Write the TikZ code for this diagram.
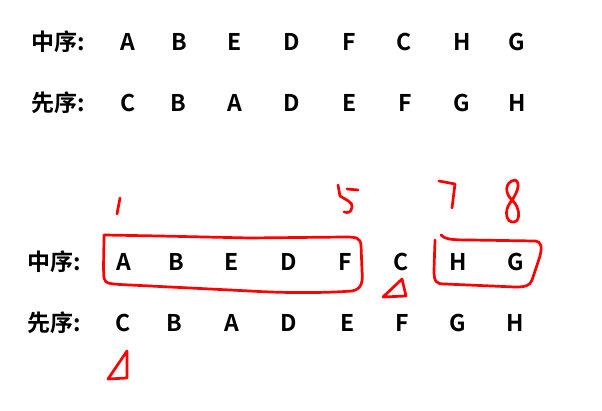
\documentclass[tikz,border=0pt]{standalone}
\usepackage{fontspec}
\setmainfont{Noto Sans CJK SC}[BoldFont={* Bold}]
\begin{document}
\begin{tikzpicture}[x=1pt,y=-1pt,
  lab/.style={font=\fontsize{23}{23}\selectfont\bfseries, inner sep=0pt},
  let/.style={font=\fontsize{23}{23}\selectfont\bfseries, inner sep=0pt},
  ink/.style={draw=red, line width=2.7pt, line cap=round, line join=round}]
\useasboundingbox (0,0) rectangle (602,411);
% rows top
\node[lab] (l1) at (58,42) {中序:};
\node[lab] (l2) at (58,103) {先序:};
\foreach \t [count=\i] in {A,B,E,D,F,C,H,G}{
  \pgfmathsetmacro\xx{{128,179,235,292,349,404,462,517}[\i-1]}
  \node[let] (a\i) at (\xx,42) {\t};}
\foreach \t [count=\i] in {C,B,A,D,E,F,G,H}{
  \pgfmathsetmacro\xx{{128,178,235,292,350,405,462,517}[\i-1]}
  \node[let] (b\i) at (\xx,103) {\t};}
% rows bottom
\node[lab] (l3) at (54,262) {中序:};
\node[lab] (l4) at (54,323) {先序:};
\foreach \t [count=\i] in {A,B,E,D,F,C,H,G}{
  \pgfmathsetmacro\xx{{124,176,232,289,345,401,458,516}[\i-1]}
  \node[let] (c\i) at (\xx,262) {\t};}
\foreach \t [count=\i] in {C,B,A,D,E,F,G,H}{
  \pgfmathsetmacro\xx{{123,174,232,289,348,402,458,515}[\i-1]}
  \node[let] (d\i) at (\xx,323) {\t};}
% red annotations
\draw[ink] (104,235) .. controls (104,250) and (103,270) .. (104,278)
  .. controls (105,284) and (110,284) .. (130,285) -- (250,291)
  .. controls (300,294) and (340,292) .. (352,291)
  .. controls (362,289) and (363,282) .. (362,270)
  -- (361,245) .. controls (360,238) and (357,237) .. (345,237)
  -- (250,238) -- (160,236) -- (104,235);
\draw[ink] (441,235) .. controls (445,239) and (450,240) .. (470,240)
  -- (535,241) .. controls (542,242) and (542,247) .. (540,256)
  -- (532,280) .. controls (530,286) and (525,287) .. (515,287)
  -- (445,284) .. controls (436,284) and (434,282) .. (434,270)
  -- (435,240);
\draw[ink] (402,279) -- (383,297) -- (406,296) -- cycle;
\draw[ink] (127,351) -- (108,379) -- (127,378) -- cycle;
\draw[ink] (120,198) -- (117,214);
\draw[ink] (347,189) -- (358,190);
\draw[ink] (338,185) -- (340,196)
  .. controls (346,200) and (353,202) .. (352,207)
  .. controls (351,213) and (348,213) .. (344,212);
\draw[ink] (439,181) -- (455,184) -- (452,208);
\draw[ink] (515,180) .. controls (504,182) and (505,194) .. (512,200)
  .. controls (520,207) and (521,221) .. (514,222)
  .. controls (506,223) and (504,211) .. (510,203)
  .. controls (516,195) and (522,183) .. (515,180);
\end{tikzpicture}
\end{document}
